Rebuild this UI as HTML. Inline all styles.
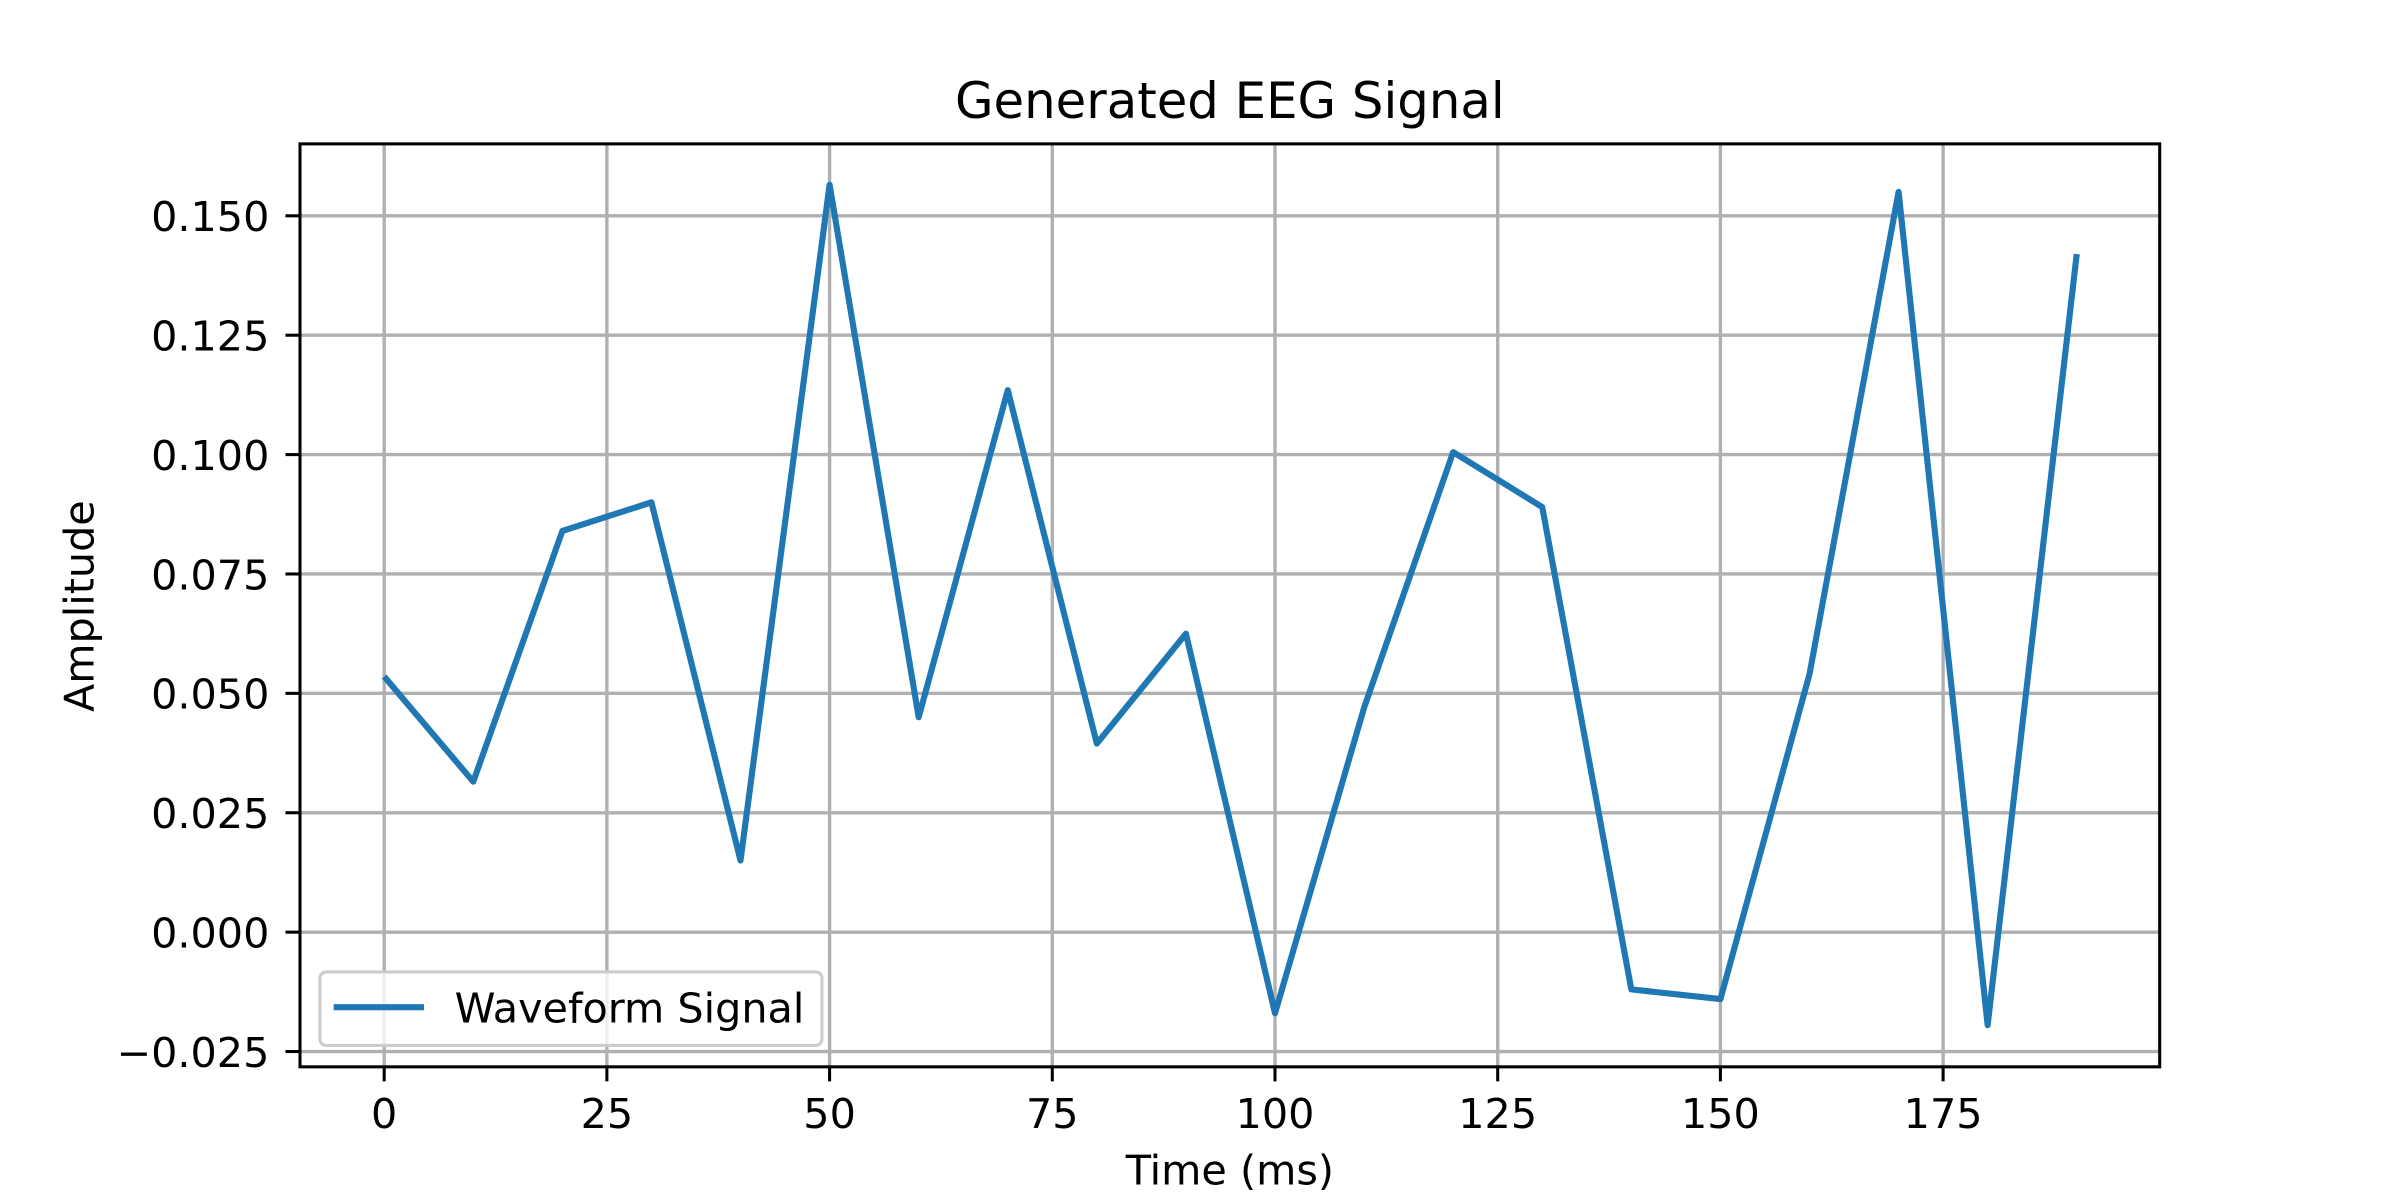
<!DOCTYPE html>
<html><head><style>html,body{margin:0;padding:0;background:#fff}svg{display:block}</style></head>
<body>
<svg width="2400" height="1200" viewBox="0 0 1568 784" xmlns="http://www.w3.org/2000/svg" font-family="DejaVu Sans, Liberation Sans, sans-serif">
<rect width="1568" height="784" fill="#fff"/>
<g stroke="#b0b0b0" stroke-width="2.2">
<line x1="251" y1="94" x2="251" y2="697"/><line x1="396.5" y1="94" x2="396.5" y2="697"/>
<line x1="542" y1="94" x2="542" y2="697"/><line x1="687.5" y1="94" x2="687.5" y2="697"/>
<line x1="833" y1="94" x2="833" y2="697"/><line x1="978.5" y1="94" x2="978.5" y2="697"/>
<line x1="1124" y1="94" x2="1124" y2="697"/><line x1="1269.5" y1="94" x2="1269.5" y2="697"/>
<line x1="196" y1="141" x2="1411" y2="141"/><line x1="196" y1="219" x2="1411" y2="219"/>
<line x1="196" y1="297" x2="1411" y2="297"/><line x1="196" y1="375" x2="1411" y2="375"/>
<line x1="196" y1="453" x2="1411" y2="453"/><line x1="196" y1="531" x2="1411" y2="531"/>
<line x1="196" y1="609" x2="1411" y2="609"/><line x1="196" y1="687" x2="1411" y2="687"/>
</g>
<polyline fill="none" stroke="#1f77b4" stroke-width="4" stroke-linejoin="round" points="251,442 309.2,510.7 367.4,346.9 425.6,328.2 483.8,562.2 542,120.7 600.2,468.6 658.4,254.9 716.6,485.8 774.8,414 833,662 891.2,462.4 949.4,295.4 1007.6,331.3 1065.8,646.4 1124,652.7 1182.2,440.5 1240.4,125.4 1298.6,669.8 1356.8,166"/>
<rect x="196" y="94" width="1215" height="603" fill="none" stroke="#000" stroke-width="2"/>
<g stroke="#000" stroke-width="2">
<line x1="251" y1="697" x2="251" y2="706.5"/><line x1="396.5" y1="697" x2="396.5" y2="706.5"/>
<line x1="542" y1="697" x2="542" y2="706.5"/><line x1="687.5" y1="697" x2="687.5" y2="706.5"/>
<line x1="833" y1="697" x2="833" y2="706.5"/><line x1="978.5" y1="697" x2="978.5" y2="706.5"/>
<line x1="1124" y1="697" x2="1124" y2="706.5"/><line x1="1269.5" y1="697" x2="1269.5" y2="706.5"/>
<line x1="186.5" y1="141" x2="196" y2="141"/><line x1="186.5" y1="219" x2="196" y2="219"/>
<line x1="186.5" y1="297" x2="196" y2="297"/><line x1="186.5" y1="375" x2="196" y2="375"/>
<line x1="186.5" y1="453" x2="196" y2="453"/><line x1="186.5" y1="531" x2="196" y2="531"/>
<line x1="186.5" y1="609" x2="196" y2="609"/><line x1="186.5" y1="687" x2="196" y2="687"/>
</g>
<g font-size="27" fill="#000" text-anchor="middle">
<text x="251" y="737">0</text><text x="396.5" y="737">25</text><text x="542" y="737">50</text>
<text x="687.5" y="737">75</text><text x="833" y="737">100</text><text x="978.5" y="737">125</text>
<text x="1124" y="737">150</text><text x="1269.5" y="737">175</text>
</g>
<g font-size="27" fill="#000" text-anchor="end">
<text x="176" y="151">0.150</text><text x="176" y="229">0.125</text><text x="176" y="307">0.100</text>
<text x="176" y="385">0.075</text><text x="176" y="463">0.050</text><text x="176" y="541">0.025</text>
<text x="176" y="619">0.000</text><text x="176" y="697">−0.025</text>
</g>
<text x="803.5" y="77" font-size="32.5" text-anchor="middle">Generated EEG Signal</text>
<text x="803.5" y="774" font-size="27" text-anchor="middle">Time (ms)</text>
<text transform="translate(61,396) rotate(-90)" font-size="27" text-anchor="middle">Amplitude</text>
<rect x="209" y="635" width="328" height="48" rx="4" fill="#fff" fill-opacity="0.8" stroke="#ccc" stroke-width="2"/>
<line x1="218" y1="658" x2="277" y2="658" stroke="#1f77b4" stroke-width="4"/>
<text x="297" y="668" font-size="27">Waveform Signal</text>
</svg>
</body></html>
